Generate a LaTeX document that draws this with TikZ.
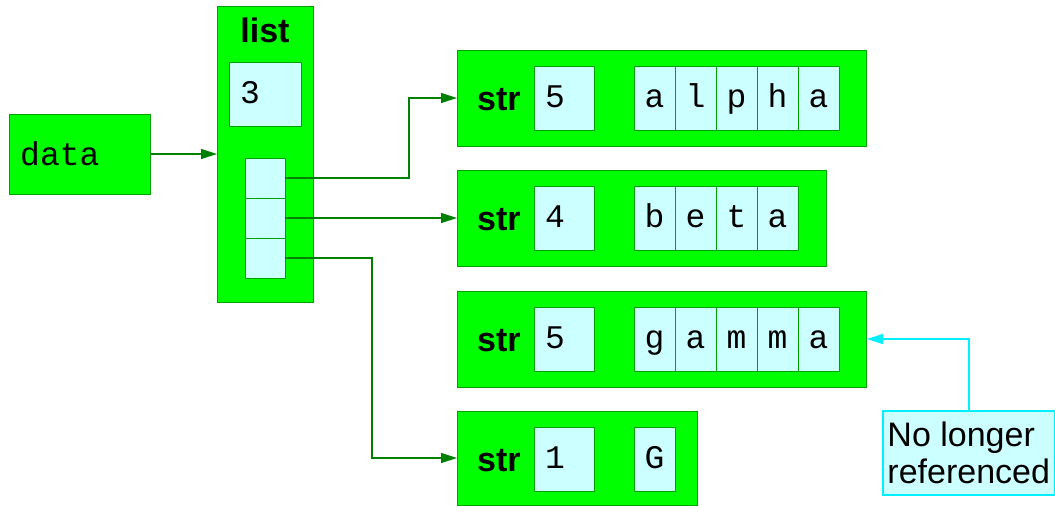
\documentclass[tikz,border=0pt]{standalone}
\usepackage{fontspec}
\setmainfont{Liberation Sans}
\setmonofont{Liberation Mono}
\usetikzlibrary{arrows.meta}
\definecolor{gfill}{HTML}{00FF00}
\definecolor{gline}{HTML}{00A000}
\definecolor{garrow}{HTML}{008000}
\definecolor{cfill}{HTML}{CCFFFF}
\definecolor{cline}{HTML}{00F0FF}
\begin{document}
\begin{tikzpicture}[x=1pt,y=-1pt,
  gbox/.style={draw=gline, fill=gfill, line width=1pt, inner sep=0pt, outer sep=0pt, anchor=north west},
  cbox/.style={draw=gline, fill=cfill, line width=1pt, inner sep=0pt, outer sep=0pt, anchor=north west},
  mono/.style={font=\fontsize{33}{38}\selectfont\ttfamily, inner sep=0pt},
  sansb/.style={font=\fontsize{34}{38}\selectfont\bfseries, inner sep=0pt},
  chr/.style={cbox, minimum width=41pt, minimum height=64pt},
  cnt/.style={cbox, minimum width=60pt, minimum height=64pt},
  garr/.style={draw=garrow, line width=1.3pt, -{Triangle[length=16pt,width=10pt]}},
  carr/.style={draw=cline, line width=1.5pt, -{Triangle[length=16pt,width=10pt]}},
  note/.style={draw=cline, fill=cfill, line width=1.5pt, inner sep=0pt, anchor=north west, align=left,
    font=\fontsize{34}{37}\selectfont}
]
\useasboundingbox (0,0) rectangle (1055,506);

% data
\node[gbox, minimum width=141pt, minimum height=80pt] (data) at (9,114) {};
\node[mono, anchor=base west] (datatxt) at (20,165) {data};

% list
\node[gbox, minimum width=96pt, minimum height=296pt] (list) at (217,6) {};
\node[sansb, anchor=base] (listtxt) at (265,42) {list};
\node[cbox, minimum width=72pt, minimum height=64pt] (lcount) at (229,62) {};
\node[mono, anchor=base west] (lcounttxt) at (240,103) {3};
\node[cbox, minimum width=40pt, minimum height=40pt] (c1) at (245,158) {};
\node[cbox, minimum width=40pt, minimum height=40pt] (c2) at (245,198) {};
\node[cbox, minimum width=40pt, minimum height=40pt] (c3) at (245,238) {};

% str 1: alpha
\node[gbox, minimum width=409pt, minimum height=96pt] (s1) at (457,50) {};
\node[sansb, anchor=base west] (s1t) at (477,110) {str};
\node[cnt] (s1c) at (534,66) {};
\node[mono, anchor=base west] (s1ct) at (545,107) {5};
\foreach \ch [count=\i from 0] in {a,l,p,h,a} {
  \node[chr] (s1k\i) at (634+41*\i,66) {};
  \node[mono, anchor=base] (s1kt\i) at (654.5+41*\i,107) {\ch};
}

% str 2: beta
\node[gbox, minimum width=369pt, minimum height=96pt] (s2) at (457,170) {};
\node[sansb, anchor=base west] (s2t) at (477,230) {str};
\node[cnt] (s2c) at (534,186) {};
\node[mono, anchor=base west] (s2ct) at (545,227) {4};
\foreach \ch [count=\i from 0] in {b,e,t,a} {
  \node[chr] (s2k\i) at (634+41*\i,186) {};
  \node[mono, anchor=base] (s2kt\i) at (654.5+41*\i,227) {\ch};
}

% str 3: gamma
\node[gbox, minimum width=409pt, minimum height=96pt] (s3) at (457,291) {};
\node[sansb, anchor=base west] (s3t) at (477,351) {str};
\node[cnt] (s3c) at (534,307) {};
\node[mono, anchor=base west] (s3ct) at (545,348) {5};
\foreach \ch [count=\i from 0] in {g,a,m,m,a} {
  \node[chr] (s3k\i) at (634+41*\i,307) {};
  \node[mono, anchor=base] (s3kt\i) at (654.5+41*\i,348) {\ch};
}

% str 4: G
\node[gbox, minimum width=240pt, minimum height=94pt] (s4) at (457,411) {};
\node[sansb, anchor=base west] (s4t) at (477,471) {str};
\node[cnt] (s4c) at (534,427) {};
\node[mono, anchor=base west] (s4ct) at (545,468) {1};
\node[chr] (s4k0) at (634,427) {};
\node[mono, anchor=base] (s4kt0) at (654.5,468) {G};

% note
\node[note, minimum width=172pt, minimum height=84pt] (note) at (882,410) {No longer\\referenced};

% connectors
\draw[garr] (data.east) -- (list.west);
\coordinate (k1) at (409,178);
\draw[garr] (c1.east) -- (k1) |- (s1.west);
\draw[garr] (c2.east) -- (s2.west);
\coordinate (k3) at (372,258);
\draw[garr] (c3.east) -- (k3) |- (s4.west);
\draw[carr, shorten >=1pt] (note.north) |- (s3.east);
\end{tikzpicture}
\end{document}
